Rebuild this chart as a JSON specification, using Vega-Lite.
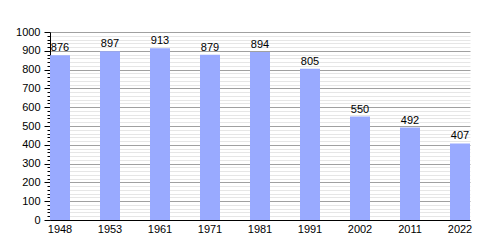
{
  "$schema": "https://vega.github.io/schema/vega-lite/v6.json",
  "autosize": "none",
  "width": 420,
  "height": 188,
  "padding": {"left": 50, "top": 32, "right": 30, "bottom": 30},
  "background": "white",
  "config": {"view": {"stroke": null}, "font": "Liberation Sans"},
  "data": {"values": [
    {"year": "1948", "pop": 876},
    {"year": "1953", "pop": 897},
    {"year": "1961", "pop": 913},
    {"year": "1971", "pop": 879},
    {"year": "1981", "pop": 894},
    {"year": "1991", "pop": 805},
    {"year": "2002", "pop": 550},
    {"year": "2011", "pop": 492},
    {"year": "2022", "pop": 407}
  ]},
  "encoding": {
    "x": {"field": "year", "type": "ordinal", "sort": null,
      "scale": {"paddingInner": 0.6, "paddingOuter": 0},
      "axis": {"title": null, "labelAngle": 0, "ticks": false, "domainColor": "black", "labelColor": "black", "labelFontSize": 11, "labelPadding": 3}},
    "y": {"field": "pop", "type": "quantitative",
      "scale": {"domain": [0, 1000], "nice": false},
      "axis": {"title": null, "format": "d",
        "values": [0,20,40,60,80,100,120,140,160,180,200,220,240,260,280,300,320,340,360,380,400,420,440,460,480,500,520,540,560,580,600,620,640,660,680,700,720,740,760,780,800,820,840,860,880,900,920,940,960,980,1000],
        "labelExpr": "datum.value % 100 === 0 ? datum.label : ''",
        "labelFontSize": 11, "labelColor": "black", "labelPadding": 4,
        "domainColor": "black",
        "tickColor": "black",
        "tickSize": {"condition": {"test": "datum.value % 100 === 0", "value": 6}, "value": 3},
        "grid": true,
        "gridColor": {"condition": {"test": "datum.value % 100 === 0", "value": "#a0a0a0"}, "value": "#e6e6e6"},
        "labelOverlap": false}}
  },
  "layer": [
    {"mark": {"type": "bar", "color": "#99aaff"}},
    {"mark": {"type": "text", "dy": -7, "fontSize": 11, "color": "black"},
     "encoding": {"text": {"field": "pop", "type": "quantitative"}}}
  ]
}
